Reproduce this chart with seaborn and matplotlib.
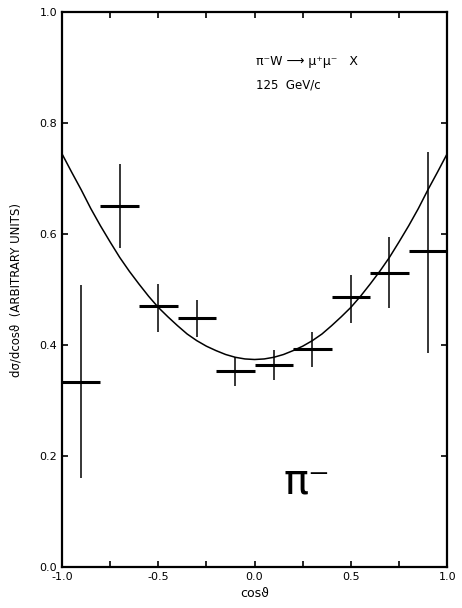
import matplotlib
matplotlib.use("Agg")
import matplotlib.pyplot as plt
import numpy as np
import pandas as pd
import seaborn as sns

# measured points (bin centres, half bin width, value, error band)
cos_theta = [-0.9, -0.7, -0.5, -0.3, -0.1, 0.1, 0.3, 0.5, 0.7, 0.9]
bin_half = [0.1] * 10
dsigma = [0.333, 0.651, 0.470, 0.449, 0.354, 0.364, 0.393, 0.487, 0.530, 0.570]
err_low = [0.160, 0.575, 0.424, 0.415, 0.326, 0.337, 0.360, 0.440, 0.467, 0.386]
err_high = [0.508, 0.726, 0.510, 0.481, 0.379, 0.391, 0.424, 0.526, 0.595, 0.748]

# fitted curve
fit_cos = [-1.0, -0.95, -0.9, -0.85, -0.8, -0.75, -0.7, -0.65, -0.6, -0.55, -0.5,
           -0.45, -0.4, -0.35, -0.3, -0.25, -0.2, -0.15, -0.1, -0.05, 0.0,
           0.05, 0.1, 0.15, 0.2, 0.25, 0.3, 0.35, 0.4, 0.45, 0.5,
           0.55, 0.6, 0.65, 0.7, 0.75, 0.8, 0.85, 0.9, 0.95, 1.0]
fit_val = [0.745, 0.712, 0.680, 0.646, 0.615, 0.586, 0.558, 0.533, 0.510, 0.488, 0.468,
           0.451, 0.435, 0.420, 0.408, 0.398, 0.390, 0.383, 0.378, 0.375, 0.374,
           0.375, 0.378, 0.383, 0.390, 0.398, 0.408, 0.420, 0.435, 0.451, 0.468,
           0.488, 0.510, 0.533, 0.558, 0.586, 0.615, 0.646, 0.680, 0.712, 0.745]

x_ticks = [-1.0, -0.75, -0.5, -0.25, 0.0, 0.25, 0.5, 0.75, 1.0]
x_labels = ['-1.0', '', '-0.5', '', '0.0', '', '0.5', '', '1.0']
y_ticks = [0.0, 0.2, 0.4, 0.6, 0.8, 1.0]
y_labels = ['0.0', '0.2', '0.4', '0.6', '0.8', '1.0']

sns.set_style('ticks')
plt.rcParams['font.family'] = ['DejaVu Sans']
plt.rcParams['text.color'] = 'black'
plt.rcParams['axes.labelcolor'] = 'black'

fig = plt.figure(figsize=(4.62, 6.08), dpi=100)
ax = fig.add_axes([0.134, 0.0674, 0.834, 0.9126])

fit_df = pd.DataFrame({'cos': fit_cos, 'val': fit_val})
sns.lineplot(data=fit_df, x='cos', y='val', ax=ax, color='black', linewidth=1.1,
             estimator=None, sort=False)

y = np.array(dsigma)
lo = y - np.array(err_low)
hi = np.array(err_high) - y
ax.errorbar(cos_theta, dsigma, xerr=bin_half, fmt='none', ecolor='black',
            elinewidth=2.2, capsize=0)
ax.errorbar(cos_theta, dsigma, yerr=[lo, hi], fmt='none', ecolor='black',
            elinewidth=1.1, capsize=0)

ax.set_xlim(-1.0, 1.0)
ax.set_ylim(0.0, 1.0)
ax.set_xticks(x_ticks)
ax.set_xticklabels(x_labels, fontsize=8)
ax.set_yticks(y_ticks)
ax.set_yticklabels(y_labels, fontsize=8)
ax.tick_params(direction='in', top=True, right=True, length=4, width=1.2,
               colors='black', labelcolor='black')
for s in ax.spines.values():
    s.set_visible(True)
    s.set_linewidth(1.6)
    s.set_color('black')

ax.set_xlabel('cosϑ', fontsize=9, labelpad=4)
ax.set_ylabel('dσ/dcosϑ  (ARBITRARY UNITS)', fontsize=8.5, labelpad=12)

ax.text(0.01, 0.905, 'π⁻W ⟶ μ⁺μ⁻   X', fontsize=9)
ax.text(0.01, 0.862, '125  GeV/c', fontsize=8.5)
ax.text(0.27, 0.155, 'π⁻', fontsize=30, ha='center', va='center')

fig.savefig('out.png', dpi=100)
plt.close(fig)
